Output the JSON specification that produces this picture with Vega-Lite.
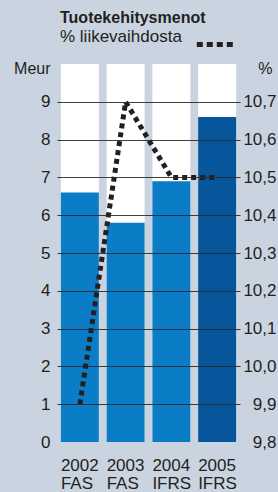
{
  "$schema": "https://vega.github.io/schema/vega-lite/v6.json",
  "width": 183,
  "height": 378,
  "autosize": "none",
  "padding": {"left": 57, "top": 64, "right": 38, "bottom": 50},
  "background": "#c9d4e0",
  "config": {
    "view": {"stroke": null},
    "font": "Liberation Sans, Arial, sans-serif",
    "axis": {"labelFont": "Liberation Sans, Arial, sans-serif", "titleFont": "Liberation Sans, Arial, sans-serif", "labelColor": "#231f20", "titleColor": "#231f20", "labelFontSize": 17, "titleFontSize": 16, "titleFontWeight": "normal"}
  },
  "title": {
    "text": "Tuotekehitysmenot",
    "subtitle": "% liikevaihdosta",
    "anchor": "start",
    "frame": "group",
    "dx": 3,
    "offset": -22,
    "font": "Liberation Sans, Arial, sans-serif",
    "fontSize": 16,
    "fontWeight": "bold",
    "color": "#231f20",
    "subtitleFont": "Liberation Sans, Arial, sans-serif",
    "subtitleFontSize": 17,
    "subtitleColor": "#231f20",
    "subtitlePadding": 3
  },
  "data": {
    "values": [
      {"year": "2002 FAS", "meur": 6.6, "pct": 9.9},
      {"year": "2003 FAS", "meur": 5.8, "pct": 10.7},
      {"year": "2004 IFRS", "meur": 6.9, "pct": 10.5},
      {"year": "2005 IFRS", "meur": 8.6, "pct": 10.5}
    ]
  },
  "encoding": {
    "x": {
      "field": "year",
      "type": "nominal",
      "sort": null,
      "scale": {"paddingInner": 0.17, "paddingOuter": 0.085},
      "axis": {
        "title": null,
        "domain": false,
        "ticks": false,
        "tickSize": 0,
        "labelAngle": 0,
        "labelAlign": "left",
        "labelOffset": -19,
        "labelBaseline": "top",
        "labelPadding": 15,
        "labelLineHeight": 18,
        "labelExpr": "split(datum.value, ' ')"
      }
    }
  },
  "layer": [
    {
      "layer": [
        {
          "mark": {"type": "bar", "color": "#ffffff"},
          "encoding": {
            "y": {
              "datum": 10,
              "type": "quantitative",
              "scale": {"domain": [0, 10], "nice": false, "zero": true},
              "axis": {
                "title": "Meur",
                "titleAngle": 0,
                "titleAlign": "right",
                "titleBaseline": "alphabetic",
                "titleX": -7,
                "titleY": 9,
                "values": [0, 1, 2, 3, 4, 5, 6, 7, 8, 9],
                "domain": false,
                "ticks": false,
                "tickSize": 0,
                "labelPadding": 7,
                "grid": true,
                "gridColor": {"condition": {"test": "datum.value == 0", "value": "transparent"}, "value": "#2a2a2a"},
                "gridWidth": 1.2,
                "gridOpacity": 0.9,
                "zindex": 1
              }
            }
          }
        },
        {
          "mark": {"type": "bar"},
          "encoding": {
            "y": {"field": "meur", "type": "quantitative", "title": "Meur"},
            "color": {
              "condition": {"test": "datum.year == '2005 IFRS'", "value": "#07569b"},
              "value": "#0a7dc6"
            }
          }
        }
      ],
      "resolve": {"scale": {"y": "shared"}, "axis": {"y": "shared"}}
    },
    {
      "mark": {"type": "line", "strokeWidth": 5, "strokeDash": [5, 4], "strokeCap": "butt"},
      "encoding": {
        "y": {
          "field": "pct",
          "type": "quantitative",
          "scale": {"domain": [9.8, 10.8], "nice": false, "zero": false},
          "axis": {
            "orient": "right",
            "title": "%",
            "titleAngle": 0,
            "titleAlign": "right",
            "titleBaseline": "alphabetic",
            "titleX": 32,
            "titleY": 9,
            "values": [9.8, 9.9, 10.0, 10.1, 10.2, 10.3, 10.4, 10.5, 10.6, 10.7],
            "labelExpr": "replace(format(datum.value, '.1f'), '.', ',')",
            "labelAlign": "right",
            "labelPadding": 36,
            "domain": false,
            "ticks": false,
            "tickSize": 0,
            "grid": false
          }
        },
        "stroke": {
          "datum": "% liikevaihdosta",
          "scale": {"range": ["#231f20"]},
          "legend": {
            "orient": "none",
            "legendX": 137,
            "legendY": -41,
            "title": null,
            "symbolType": "stroke",
            "symbolSize": 1400,
            "symbolStrokeWidth": 5,
            "symbolDash": [6, 4],
            "labelExpr": "''",
            "labelFontSize": 1,
            "padding": 0
          }
        }
      }
    }
  ],
  "resolve": {"scale": {"y": "independent"}}
}
